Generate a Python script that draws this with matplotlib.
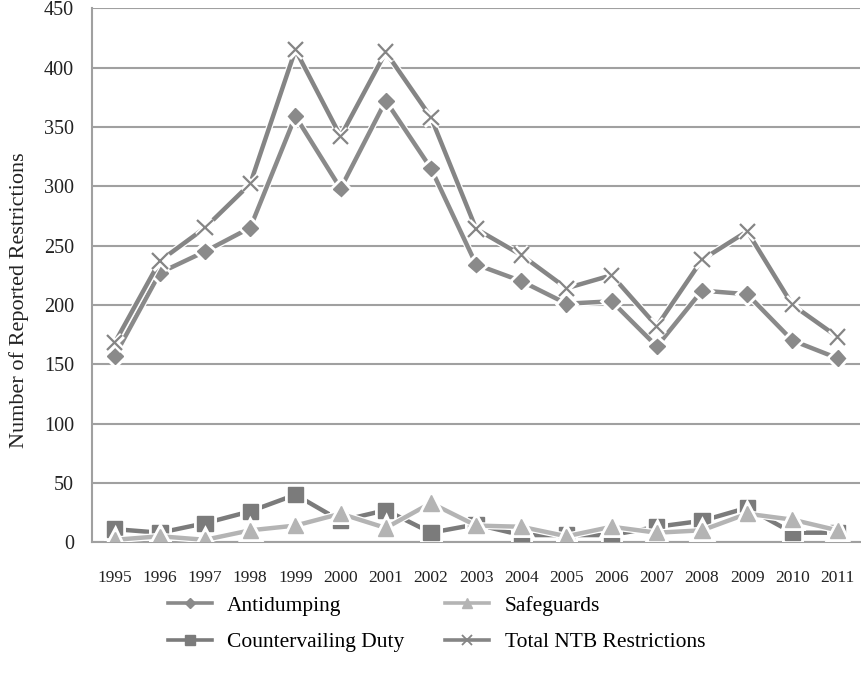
import matplotlib.pyplot as plt
import matplotlib.patheffects as pe
from matplotlib.lines import Line2D

years = [str(y) for y in range(1995, 2012)]
antidumping = [157, 227, 245, 265, 359, 298, 372, 315, 234, 220, 201, 203, 165, 212, 209, 170, 155]
countervailing = [11, 8, 16, 26, 40, 18, 27, 8, 15, 6, 6, 6, 13, 18, 29, 8, 8]
safeguards = [2, 5, 2, 10, 14, 24, 12, 33, 14, 13, 5, 13, 8, 10, 24, 19, 10]
total = [168, 237, 265, 302, 415, 342, 413, 358, 264, 242, 214, 225, 182, 238, 262, 200, 173]

plt.rcParams['font.family'] = ['Liberation Serif', 'DejaVu Serif']

fig = plt.figure(figsize=(8.61, 6.82), dpi=100)
ax = fig.add_axes([0.107, 0.205, 0.892, 0.783])

outline = [pe.Stroke(linewidth=5, foreground='white'), pe.Normal()]
x = list(range(len(years)))
series = [
    (antidumping, '#8a8a8a', 'D', 8, 'Antidumping', 4),
    (countervailing, '#7b7b7b', 's', 11, 'Countervailing Duty', 3),
    (safeguards, '#b4b4b4', '^', 11, 'Safeguards', 4),
    (total, '#858585', 'x', 11, 'Total NTB Restrictions', 4),
]
handles = []
for vals, c, m, ms, name, z in series:
    ax.plot(x, vals, color=c, lw=3.2, marker=m, ms=ms, mew=1.6 if m == 'x' else 1,
            path_effects=outline, zorder=z)
    handles.append(Line2D([], [], color=c, lw=2.6, marker=m, ms=ms * 0.65,
                          mew=1.3 if m == 'x' else 1, label=name))

ax.set_xlim(-0.5, len(years) - 0.5)
ax.set_ylim(0, 450)
ax.set_yticks(range(0, 451, 50))
ax.set_xticks(x)
ax.set_xticklabels(years)
ax.yaxis.grid(True, color='#a0a0a0', lw=1.5)
ax.set_axisbelow(True)
ax.tick_params(length=0, colors='#222222')
ax.tick_params(axis='y', pad=13, labelsize=14.5)
ax.tick_params(axis='x', pad=20, labelsize=12.5)
for s in ['top', 'right']:
    ax.spines[s].set_visible(False)
for s in ['left', 'bottom']:
    ax.spines[s].set_color('#a0a0a0')
    ax.spines[s].set_linewidth(1.5)
ax.set_ylabel('Number of Reported Restrictions', fontsize=16, color='#222222')
ax.yaxis.set_label_coords(-0.082, 0.453)

fig.legend(handles, [h.get_label() for h in handles], ncol=2, loc='center left',
           bbox_to_anchor=(168 / 861, 0.085), frameon=False, fontsize=15.5,
           borderpad=0, borderaxespad=0,
           handlelength=2.05, columnspacing=1.9, labelspacing=0.75, handletextpad=0.7)

fig.savefig('out.png', dpi=100)
